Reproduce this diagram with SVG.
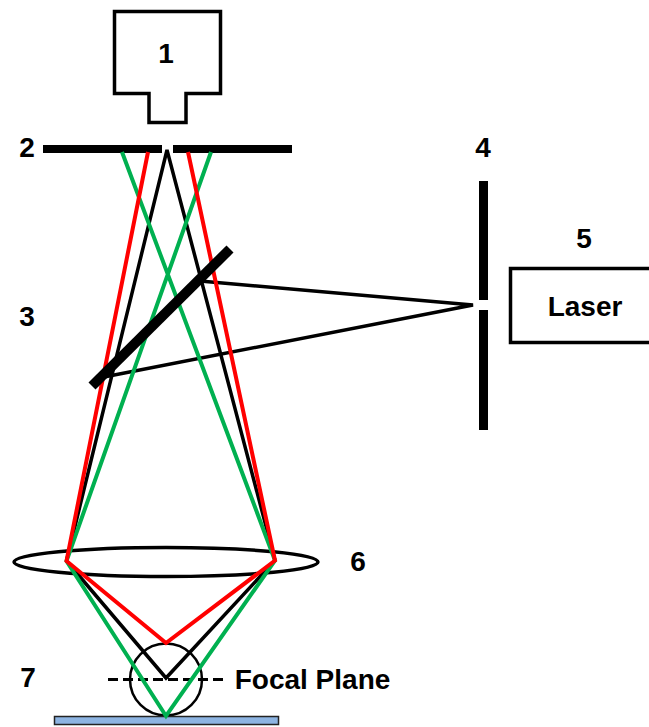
<svg xmlns="http://www.w3.org/2000/svg" width="649" height="727" viewBox="0 0 649 727">
<style>
text{font-family:"Liberation Sans",Arial,sans-serif;font-weight:700;font-size:28px;fill:#000;text-anchor:middle}
.o{fill:#fff;stroke:#000;stroke-width:3.500}
.n{fill:none;stroke:#000;stroke-width:3.500}
.c{fill:none;stroke:#000;stroke-width:2.500}
.k{fill:none;stroke:#000;stroke-width:3.500}
.r{fill:none;stroke:#f00;stroke-width:4}
.g{fill:none;stroke:#00b050;stroke-width:4}
</style>
<rect width="649" height="727" fill="#fff"/>
<g id="detector"><path class="o" d="M114.500 11.500H220.500V93.500H186V122.500H149V93.500H114.500Z"/><text x="166" y="63">1</text></g>
<g id="pinhole"><rect x="43" y="145" width="119" height="8"/><rect x="173" y="145" width="119" height="8"/><text x="27" y="157">2</text></g>
<g id="objective"><ellipse class="n" cx="166" cy="562" rx="152" ry="14.500"/><text x="358" y="571">6</text></g>
<g id="specimen"><circle class="c" cx="166" cy="679.500" r="36"/><rect x="54.500" y="716.500" width="224" height="8" fill="#8db4e2" stroke="#222" stroke-width="1.500"/><text x="28" y="687">7</text></g>
<g id="focal-plane"><path d="M108 679.500H223" fill="none" stroke="#000" stroke-width="3" stroke-dasharray="10 5"/><text x="312.500" y="689">Focal Plane</text></g>
<g id="connectors">
<path class="k" d="M104 377L473 305L200 281"/>
<path class="k" d="M66.500 561L167 150L275 560.500L166 678L66.500 561"/>
<path class="g" d="M122 152L275 560.500L166 716L66.500 561L211 152"/>
<path class="r" d="M148 152L66.500 561L166 643L275 560.500L188 152"/>
</g>
<g id="dichroic"><path d="M92 386L230 249" fill="none" stroke="#000" stroke-width="10"/><text x="27" y="326">3</text></g>
<g id="aperture"><rect x="479" y="181" width="9" height="119"/><rect x="479" y="310" width="9" height="120"/><text x="483" y="157">4</text></g>
<g id="laser"><rect class="o" x="510.500" y="268.500" width="145" height="74"/><text x="585" y="316">Laser</text><text x="584" y="248">5</text></g>
</svg>
